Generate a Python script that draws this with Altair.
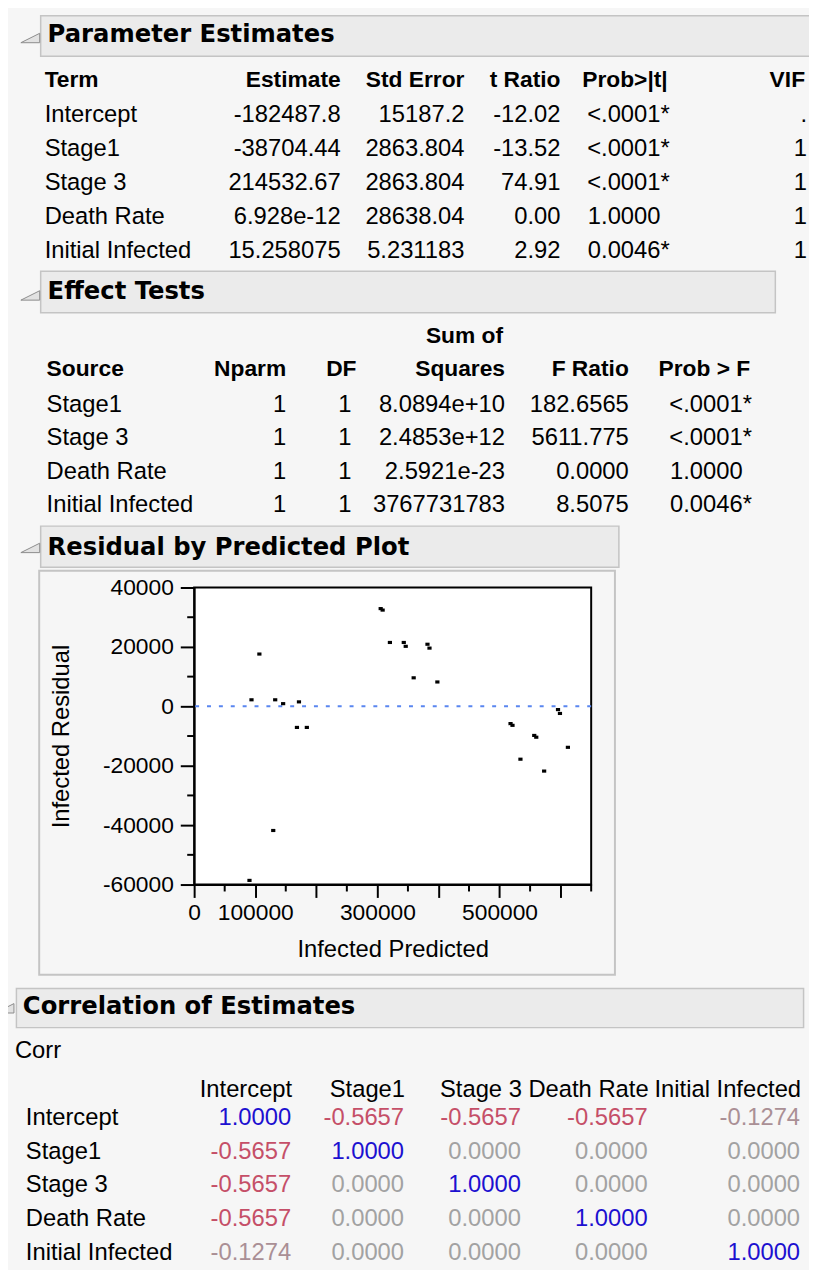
import altair as alt
import pandas as pd

# ---------------- data ----------------
pe_terms = ["Intercept", "Stage1", "Stage 3", "Death Rate", "Initial Infected"]
pe_estimate = ["-182487.8", "-38704.44", "214532.67", "6.928e-12", "15.258075"]
pe_std_error = ["15187.2", "2863.804", "2863.804", "28638.04", "5.231183"]
pe_t_ratio = ["-12.02", "-13.52", "74.91", "0.00", "2.92"]
pe_prob = ["<.0001", "<.0001", "<.0001", "1.0000", "0.0046"]
pe_signif = [True, True, True, False, True]
pe_vif = [".", "1", "1", "1", "1"]

et_source = ["Stage1", "Stage 3", "Death Rate", "Initial Infected"]
et_nparm = ["1", "1", "1", "1"]
et_df = ["1", "1", "1", "1"]
et_sum_sq = ["8.0894e+10", "2.4853e+12", "2.5921e-23", "3767731783"]
et_f_ratio = ["182.6565", "5611.775", "0.0000", "8.5075"]
et_prob = ["<.0001", "<.0001", "1.0000", "0.0046"]
et_signif = [True, True, False, True]

infected_predicted = [90600, 93900, 106800, 129500, 132700, 145700, 168300, 171600,
                      184500, 305400, 308600, 320500, 343200, 346400, 359400, 382000,
                      385300, 398200, 518000, 521200, 534200, 556800, 560100, 573000,
                      595700, 598900, 611900]
infected_residual = [-58600, 2200, 17600, -41800, 2200, 900, -7100, 1500,
                     -7100, 32900, 32400, 21500, 21500, 20200, 9600, 20900,
                     19600, 8200, -5800, -6400, -17800, -9800, -10400, -21800,
                     -1100, -2400, -13800]

corr_terms = ["Intercept", "Stage1", "Stage 3", "Death Rate", "Initial Infected"]
corr_values = [
    [1.0000, -0.5657, -0.5657, -0.5657, -0.1274],
    [-0.5657, 1.0000, 0.0000, 0.0000, 0.0000],
    [-0.5657, 0.0000, 1.0000, 0.0000, 0.0000],
    [-0.5657, 0.0000, 0.0000, 1.0000, 0.0000],
    [-0.1274, 0.0000, 0.0000, 0.0000, 1.0000],
]

x_major_ticks = [0, 100000, 200000, 300000, 400000, 500000, 600000]
x_labelled_ticks = [0, 100000, 300000, 500000]
x_minor_ticks = [50000, 150000, 250000, 350000, 450000, 550000, 650000]
y_major_ticks = [-60000, -40000, -20000, 0, 20000, 40000]
y_minor_ticks = [-50000, -30000, -10000, 10000, 30000]

# ---------------- layout / style ----------------
W, H = 817, 1278            # page (screen) size
OX, OY = 196, 587           # screen position of the scatter plot area origin
PW, PH = 401, 300           # scatter plot area size
CANVAS_W, CANVAS_H = 809, 1262
SANS = "Liberation Sans, Arial, sans-serif"
TITLE_FONT = "DejaVu Sans, Verdana, sans-serif"
BG = "#f6f6f6"

PX = alt.Scale(domain=[0, W], range=[-OX, W - OX], nice=False, zero=False)
PY = alt.Scale(domain=[0, H], range=[-OY, H - OY], nice=False, zero=False)


def page_xy(xf="px", yf="py"):
    return dict(x=alt.X(f"{xf}:Q", scale=PX, axis=None),
                y=alt.Y(f"{yf}:Q", scale=PY, axis=None))


# text anchors (screen px)
rows = []


def put(kind, x, y, t):
    rows.append(dict(kind=kind, px=x, py=y, text=t))


# section titles
put("title", 48, 36.5, "Parameter Estimates")
put("title", 48, 296, "Effect Tests")
put("title", 48, 554, "Residual by Predicted Plot")
put("title", 23, 1018, "Correlation of Estimates")

# Parameter Estimates
hy = 81
put("hdrL", 45, hy, "Term")
put("hdrR", 344, hy, "Estimate")
put("hdrR", 469, hy, "Std Error")
put("hdrR", 566, hy, "t Ratio")
put("hdrL", 588, hy, "Prob>|t|")
put("hdrR", 813, hy, "VIF")
for i, term in enumerate(pe_terms):
    y = 117.3 + 34.2 * i
    put("txtL", 45, y, term)
    put("txtR", 344, y, pe_estimate[i])
    put("txtR", 469, y, pe_std_error[i])
    put("txtR", 566, y, pe_t_ratio[i])
    put("txtR", 667, y, pe_prob[i])
    if pe_signif[i]:
        put("txtL", 667, y, "*")
    put("txtR", 815, y, pe_vif[i])

# Effect Tests
put("hdrR", 508, 340, "Sum of")
hy = 373.3
put("hdrL", 47, hy, "Source")
put("hdrR", 289, hy, "Nparm")
put("hdrR", 360, hy, "DF")
put("hdrR", 510, hy, "Squares")
put("hdrR", 635, hy, "F Ratio")
put("hdrL", 665, hy, "Prob > F")
for i, src in enumerate(et_source):
    y = 409.5 + 33.8 * i
    put("txtL", 47, y, src)
    put("txtR", 289, y, et_nparm[i])
    put("txtR", 355, y, et_df[i])
    put("txtR", 510, y, et_sum_sq[i])
    put("txtR", 635, y, et_f_ratio[i])
    put("txtR", 750, y, et_prob[i])
    if et_signif[i]:
        put("txtL", 750, y, "*")

# Correlation of Estimates
put("txtL", 15, 1061.7, "Corr")
corr_col_right = [295, 409, 527, 655, 809]
for j, term in enumerate(corr_terms):
    put("txtR", corr_col_right[j], 1101.7, term)
corr_rows = []
for i, term in enumerate(corr_terms):
    y = 1130 + 34 * i
    put("txtL", 26, y, term)
    for j in range(len(corr_terms)):
        corr_rows.append(dict(px=corr_col_right[j] - 1, py=y, v=corr_values[i][j]))

text_df = pd.DataFrame(rows)
corr_df = pd.DataFrame(corr_rows)

bars_df = pd.DataFrame(dict(
    x0=[41, 41, 41, 16.5], x1=[840, 783, 625, 811.5],
    y0=[9.5, 267.5, 525, 992], y1=[50.5, 309.5, 566.5, 1031.5]))
frame_df = pd.DataFrame(dict(x0=[39.5], x1=[621], y0=[570], y1=[978]))
tri_df = pd.DataFrame(dict(px=[30.5, 30.5, 30.5, 4.5], py=[32, 292, 547, 1012]))


def text_layer(kind, align, bold, font=SANS, size=24):
    return alt.Chart(text_df[text_df.kind == kind]).mark_text(
        align=align, baseline="alphabetic", font=font, fontSize=size,
        fontWeight="bold" if bold else "normal", color="black"
    ).encode(**page_xy(), text="text:N")


bars = alt.Chart(bars_df).mark_rect(fill="#ebebeb", stroke="#c4c4c4", strokeWidth=1.5).encode(
    x=alt.X("x0:Q", scale=PX, axis=None), x2="x1:Q",
    y=alt.Y("y0:Q", scale=PY, axis=None), y2="y1:Q")
frame = alt.Chart(frame_df).mark_rect(filled=False, color="#c4c4c4", strokeWidth=2).encode(
    x=alt.X("x0:Q", scale=PX, axis=None), x2="x1:Q",
    y=alt.Y("y0:Q", scale=PY, axis=None), y2="y1:Q")
tris = alt.Chart(tri_df).mark_point(
    shape="M -1 0.5 L 1 0.5 L 1 -0.5 Z", size=361, filled=True,
    fill="#e2e2e2", stroke="#8c8c8c", strokeWidth=1, opacity=1
).encode(**page_xy())

corr_layer = alt.Chart(corr_df).transform_calculate(
    label="replace(format(datum.v, '.4f'), '\u2212', '-')"
).mark_text(align="right", baseline="alphabetic", font=SANS, fontSize=24).encode(
    **page_xy(),
    text="label:N",
    color=alt.Color("v:Q", legend=None,
                    scale=alt.Scale(domain=[-1, 0, 1],
                                    range=["#e0103c", "#a2a2a2", "#1c10d0"],
                                    interpolate="rgb")))

page = alt.layer(
    bars, frame, tris,
    text_layer("title", "left", True, TITLE_FONT, 24.5),
    text_layer("hdrL", "left", True, SANS, 23),
    text_layer("hdrR", "right", True, SANS, 23),
    text_layer("txtL", "left", False),
    text_layer("txtR", "right", False),
    corr_layer,
)

# ---------------- scatter ----------------
XS = alt.Scale(domain=[0, 650000], nice=False, zero=False)
YS = alt.Scale(domain=[-60000, 40000], nice=False, zero=False)
x_axis = alt.Axis(
    orient="bottom", values=x_major_ticks, grid=False,
    labelExpr="indexof(" + str(x_labelled_ticks) + ", datum.value) >= 0 ? '' + datum.value : ''",
    labelFont=SANS, labelFontSize=23, labelColor="black", labelBaseline="alphabetic",
    labelPadding=22, labelFlush=False, labelOverlap=False,
    tickSize=13, tickWidth=2, tickColor="black", domainColor="black", domainWidth=2,
    title="Infected Predicted", titleFont=SANS, titleFontSize=24, titleFontWeight="normal",
    titleColor="black", titleX=PW / 2, titleY=72.5, titleAlign="center",
    titleBaseline="alphabetic")
y_axis = alt.Axis(
    orient="left", values=y_major_ticks, grid=False,
    labelExpr="'' + datum.value",
    labelFont=SANS, labelFontSize=23, labelColor="black", labelPadding=7,
    labelFlush=False, labelOverlap=False,
    tickSize=14, tickWidth=2, tickColor="black", domainColor="black", domainWidth=2,
    title="Infected Residual", titleFont=SANS, titleFontSize=24, titleFontWeight="normal",
    titleColor="black", titleAngle=270, titleX=62 - OX, titleY=PH / 2,
    titleAlign="center", titleBaseline="middle")

X_ENC = alt.X("pred:Q", scale=XS, axis=x_axis)
Y_ENC = alt.Y("resid:Q", scale=YS, axis=y_axis)

scatter_df = pd.DataFrame(dict(pred=infected_predicted, resid=infected_residual))
zero_line = alt.Chart(pd.DataFrame(dict(resid=[0]))).mark_rule(
    color="#5a86f0", strokeWidth=2, strokeDash=[4, 8]).encode(y=Y_ENC)
x_minor = alt.Chart(pd.DataFrame(dict(pred=x_minor_ticks))).mark_rule(
    color="black", strokeWidth=2).encode(x=X_ENC, y=alt.value(PH), y2=alt.value(PH + 7))
y_minor = alt.Chart(pd.DataFrame(dict(resid=y_minor_ticks))).mark_rule(
    color="black", strokeWidth=2).encode(y=Y_ENC, x=alt.value(-7), x2=alt.value(0))
points = alt.Chart(scatter_df).mark_point(
    shape="M -1 -0.75 L 1 -0.75 L 1 0.75 L -1 0.75 Z", size=18, filled=True,
    color="black", opacity=1).encode(x=X_ENC, y=Y_ENC)

scatter = alt.layer(zero_line, x_minor, y_minor, points)

chart = alt.layer(scatter, page).resolve_scale(
    x="independent", y="independent", color="independent"
).properties(
    width=PW, height=PH,
    autosize=alt.AutoSizeParams(type="none"),
    padding={"left": OX - 8, "top": OY - 8,
             "right": CANVAS_W - (OX - 8) - PW, "bottom": CANVAS_H - (OY - 8) - PH},
    background=BG,
).configure_view(fill="white", stroke="black", strokeWidth=2)

chart.save("out.html", embed_options={"renderer": "svg", "actions": False})
